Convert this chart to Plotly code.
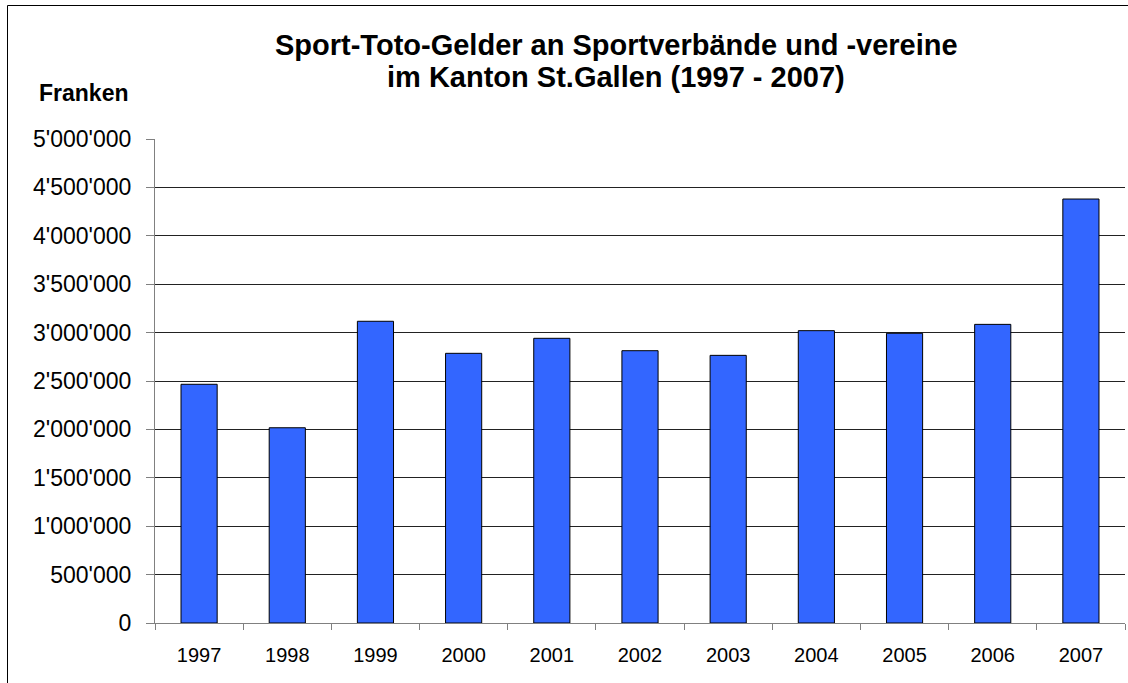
import plotly.graph_objects as go

years = ["1997", "1998", "1999", "2000", "2001", "2002", "2003", "2004", "2005", "2006", "2007"]
values = [2466000, 2017000, 3117000, 2786000, 2941000, 2813000, 2765000, 3020000, 2993000, 3085000, 4380000]
tick_vals = [0, 500000, 1000000, 1500000, 2000000, 2500000, 3000000, 3500000, 4000000, 4500000, 5000000]
tick_text = ["0", "500'000", "1'000'000", "1'500'000", "2'000'000", "2'500'000",
             "3'000'000", "3'500'000", "4'000'000", "4'500'000", "5'000'000"]
title_lines = ["Sport-Toto-Gelder an Sportverbände und -vereine",
               "im Kanton St.Gallen (1997 - 2007)"]

W, H = 1128, 683
L, R, T, B = 155, 3, 139, 60
pw, ph = W - L - R, H - T - B

def px_x(x):
    return (x - L) / pw

def px_y(y):
    return (H - B - y) / ph

fig = go.Figure()
fig.add_trace(go.Bar(
    x=years, y=values,
    marker=dict(color="#3366FF", line=dict(color="#000000", width=1)),
    width=0.41,
))

annots = [dict(
    text="<b>Franken</b>", xref="paper", yref="paper",
    x=px_x(83), y=px_y(93), xanchor="center", yanchor="middle",
    showarrow=False, font=dict(size=23),
)]
for line, ypx in zip(title_lines, [45, 77]):
    annots.append(dict(
        text="<b>" + line + "</b>", xref="paper", yref="paper",
        x=px_x(616), y=px_y(ypx), xanchor="center", yanchor="middle",
        showarrow=False, font=dict(size=29),
    ))

fig.update_layout(
    width=W, height=H,
    margin=dict(l=L, r=R, t=T, b=B),
    paper_bgcolor="white", plot_bgcolor="white",
    font=dict(family="Liberation Sans, Arial", color="black", size=20),
    showlegend=False,
    annotations=annots,
    shapes=[dict(
        type="rect", xref="paper", yref="paper",
        x0=px_x(7.5), x1=px_x(1140), y0=px_y(5.5), y1=px_y(700),
        line=dict(color="#000000", width=1), fillcolor="rgba(0,0,0,0)", layer="below",
    )],
)

fig.update_xaxes(
    type="category",
    showline=True, linecolor="#808080", linewidth=1,
    ticks="outside", ticklen=6, tickcolor="#808080", tickson="boundaries",
    tickfont=dict(size=20),
    ticklabelstandoff=14,
    showgrid=False,
)
fig.update_yaxes(
    range=[0, 5000000],
    tickvals=tick_vals, ticktext=tick_text,
    showline=True, linecolor="#808080", linewidth=1,
    ticks="outside", ticklen=8, tickcolor="#808080",
    ticklabelstandoff=10,
    showgrid=True, gridcolor="#222222", gridwidth=1,
    zeroline=False,
    tickfont=dict(size=23),
)

fig.write_html("out.html", config={"displayModeBar": False},
               post_script="document.body.style.margin='0';")
